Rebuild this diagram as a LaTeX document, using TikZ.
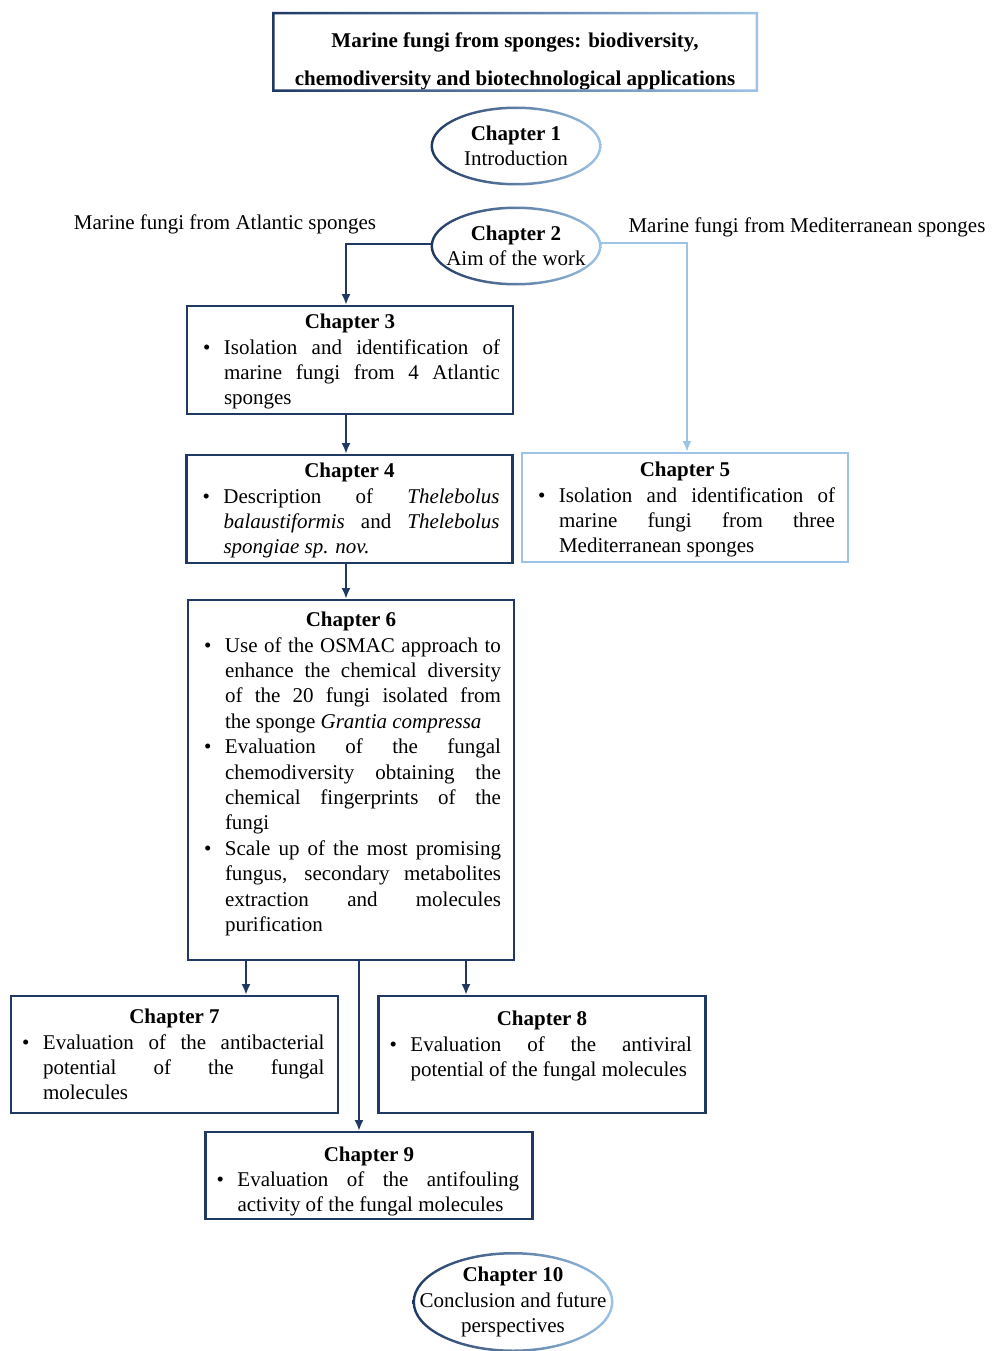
\documentclass[tikz,border=0pt]{standalone}
\usepackage{fontspec}
\setmainfont{Liberation Serif}
\usetikzlibrary{arrows.meta,shapes.geometric}

\definecolor{navy}{RGB}{31,56,100}
\definecolor{cyanblue}{RGB}{20,150,212}
\definecolor{sky}{RGB}{157,195,230}

% bullet with hanging text
\newcommand{\bitem}[1][24pt]{\par\noindent\hangindent=#1\hangafter=1\makebox[#1][r]{\textbullet\hspace{13.5pt}}\ignorespaces}
\hbadness=10000

\begin{document}
\begin{tikzpicture}[
  x=1pt, y=-1pt,
  font=\fontsize{21}{25.4}\selectfont,
  chap/.style={draw=navy, line width=2.3pt, anchor=north, text width=300pt, inner xsep=13pt, inner ysep=0pt, align=justify},
  medchap/.style={chap, draw=sky},
  lowchap/.style={chap, minimum width=327pt},
  oval/.style={ellipse, inner sep=0pt, align=center, minimum width=171pt, minimum height=79pt},
  ring/.style={even odd rule, left color=navy, middle color=cyanblue, right color=sky},
  arrow/.style={-{Latex[length=11pt,width=9pt]}, line width=2.3pt, draw=navy},
  medarrow/.style={arrow, draw=sky},
  side/.style={align=center}
]
\useasboundingbox (0,0) rectangle (992,1351);

\node[align=center, inner sep=0pt, font=\fontsize{21}{38}\selectfont\bfseries] (title) at (515,61)
  {Marine fungi from sponges: biodiversity,\\chemodiversity and biotechnological applications};
\shade[ring] ([shift={(-243,-49)}]title.center) rectangle ([shift={(243,31)}]title.center)
  ([shift={(-240.5,-46.5)}]title.center) rectangle ([shift={(240.5,28.5)}]title.center);

\node[oval] (ch1) at (516,146) {\textbf{Chapter 1}\\Introduction};
\shade[ring] (ch1.center) ellipse [x radius=85.5pt, y radius=39.5pt]
  (ch1.center) ellipse [x radius=83pt, y radius=37pt];

\node[oval] (ch2) at (516,246) {\textbf{Chapter 2}\\Aim of the work};
\shade[ring] (ch2.center) ellipse [x radius=85.5pt, y radius=39.5pt]
  (ch2.center) ellipse [x radius=83pt, y radius=37pt];

\node[side] (atl) at (225,224) {Marine fungi from Atlantic sponges};
\node[side] (med) at (807,227) {Marine fungi from Mediterranean sponges};

\node[chap, text height=22.5pt, text depth=85.5pt] (ch3) at (350,305)
  {{\centering\bfseries Chapter 3\par}
   \bitem Isolation and identification of\linebreak marine fungi from 4 Atlantic\linebreak sponges\par};

\node[chap, text height=22.5pt, text depth=85.5pt] (ch4) at (349.5,454)
  {{\centering\bfseries Chapter 4\par}
   \bitem Description of \textit{Thelebolus}\linebreak \textit{balaustiformis} and \textit{Thelebolus}\linebreak \textit{spongiae sp. nov.}\par};

\node[medchap, text height=23.5pt, text depth=85.5pt] (ch5) at (685,452)
  {{\centering\bfseries Chapter 5\par}
   \bitem Isolation and identification of\linebreak marine fungi from three\linebreak Mediterranean sponges\par};

\node[chap, text height=26.5pt, text depth=333.5pt] (ch6) at (351,599)
  {{\centering\bfseries Chapter 6\par}
   \bitem Use of the OSMAC approach to\linebreak enhance the chemical diversity\linebreak of the 20 fungi isolated from\linebreak the sponge \textit{Grantia compressa}
   \bitem Evaluation of the fungal\linebreak chemodiversity obtaining the\linebreak chemical fingerprints of the\linebreak fungi
   \bitem Scale up of the most promising\linebreak fungus, secondary metabolites\linebreak extraction and molecules\linebreak purification\par};

\node[lowchap, text height=27.5pt, text depth=89.5pt] (ch7) at (174.5,995)
  {{\centering\bfseries Chapter 7\par}
   \bitem[18.5pt] Evaluation of the antibacterial\linebreak potential of the fungal\linebreak molecules\par};

\node[lowchap, text height=29.5pt, text depth=87.5pt] (ch8) at (542,995)
  {{\centering\bfseries Chapter 8\par}
   \bitem[18.5pt] Evaluation of the antiviral\linebreak potential of the fungal molecules\par};

\node[lowchap, text height=29pt, text depth=58pt] (ch9) at (369,1131)
  {{\centering\bfseries Chapter 9\par}
   \bitem[18.5pt] Evaluation of the antifouling\linebreak activity of the fungal molecules\par};

\node[oval, minimum width=201pt, minimum height=100pt] (ch10) at (513,1302)
  {\textbf{Chapter 10}\\Conclusion and future\\perspectives};
\shade[ring] (ch10.center) ellipse [x radius=100.5pt, y radius=50pt]
  (ch10.center) ellipse [x radius=98pt, y radius=47.5pt];

\draw[arrow] ([xshift=-84pt,yshift=2pt]ch2.center) -| ([xshift=-4pt]ch3.north);
\draw[medarrow] ([xshift=84pt,yshift=3pt]ch2.center) -| ([xshift=2pt]ch5.north);
\draw[arrow] ([xshift=-4pt]ch3.south) -- ([xshift=-3.5pt]ch4.north);
\draw[arrow] ([xshift=-3.5pt]ch4.south) -- ([xshift=-5pt]ch6.north);
\draw[arrow] ([xshift=-105pt]ch6.south) -- ([xshift=71.5pt]ch7.north);
\draw[arrow] ([xshift=115pt]ch6.south) -- ([xshift=-76pt]ch8.north);
\draw[arrow] ([xshift=8pt]ch6.south) -- ([xshift=-10pt]ch9.north);

\end{tikzpicture}
\end{document}
